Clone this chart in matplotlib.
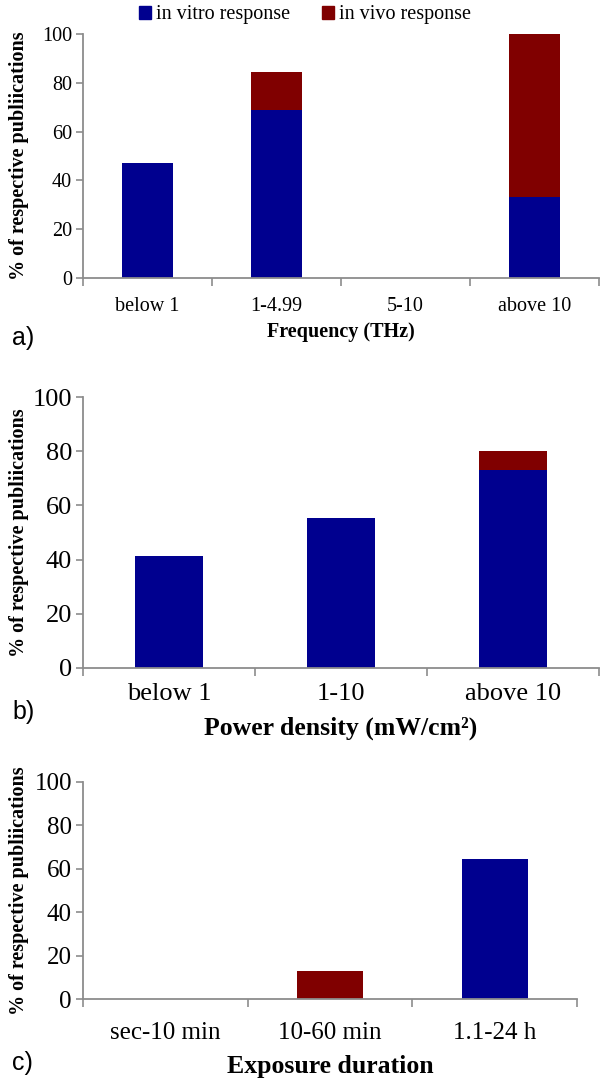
import numpy as np
import matplotlib
matplotlib.use('Agg')
import matplotlib.pyplot as plt
from matplotlib.patches import Patch

plt.rcParams['font.family'] = ['Liberation Serif', 'DejaVu Serif']

# panel a: frequency
freq_cats = ['below 1', '1-4.99', '5-10', 'above 10']
freq_vitro = [47, 69, 0, 33]
freq_vivo = [0, 15.5, 0, 67]

# panel b: power density
power_cats = ['below 1', '1-10', 'above 10']
power_vitro = [41.5, 55.5, 73]
power_vivo = [0, 0, 7]

# panel c: exposure duration
dur_cats = ['sec-10 min', '10-60 min', '1.1-24 h']
dur_vitro = [0, 0, 64.5]
dur_vivo = [0, 13, 0]

BLUE = '#00008f'
RED = '#800000'
GREY = '#8c8c8c'
YLABEL = '% of respective publiications'

fig = plt.figure(figsize=(6, 10.79), dpi=100)
W, H = 600., 1079.


def px_axes(l, r, top, bot):
    return fig.add_axes([l / W, 1 - bot / H, (r - l) / W, (bot - top) / H])


def panel(ax, cats, vitro, vivo, tick_fs, pad, xlab, xlab_fs, xlab_y, letter, letter_y):
    x = np.arange(len(cats))
    ax.bar(x, vitro, width=0.4, color=BLUE, zorder=2)
    ax.bar(x, vivo, width=0.4, bottom=vitro, color=RED, zorder=2)
    ax.set_xlim(-0.5, len(cats) - 0.5)
    ax.set_ylim(0, 100)
    ax.set_yticks(range(0, 101, 20))
    ax.set_xticks(x)
    ax.set_xticklabels(cats, fontsize=tick_fs)
    ax.set_xticks(np.arange(len(cats) + 1) - 0.5, minor=True)
    ax.tick_params(axis='x', which='major', length=0, pad=pad)
    ax.tick_params(axis='x', which='minor', length=6, width=1.2, color=GREY, direction='out')
    ax.tick_params(axis='y', length=5, width=1.2, color=GREY, labelsize=tick_fs, pad=3)
    for s in ['top', 'right']:
        ax.spines[s].set_visible(False)
    for s in ['left', 'bottom']:
        ax.spines[s].set_color(GREY)
        ax.spines[s].set_linewidth(1.3)
    bb = ax.get_position()
    fig.text((bb.x0 + bb.x1) / 2, 1 - xlab_y / H, xlab, fontsize=xlab_fs,
             fontweight='bold', ha='center', va='center')
    fig.text(19 / W, (bb.y0 + bb.y1) / 2, YLABEL, fontsize=14.5, fontweight='bold',
             rotation=90, ha='center', va='center')
    fig.text(12 / W, 1 - letter_y / H, letter, fontsize=18,
             family=['Liberation Sans', 'DejaVu Sans'], va='center')


ax1 = px_axes(83, 599, 34, 278)
panel(ax1, freq_cats, freq_vitro, freq_vivo, 14.5, 13.5, 'Frequency (THz)', 14.5, 332, 'a)', 338)

ax2 = px_axes(83, 599, 397, 668)
panel(ax2, power_cats, power_vitro, power_vivo, 19, 11, 'Power density (mW/cm²)', 18.5, 728, 'b)', 712)

ax3 = px_axes(83, 577, 782, 999)
panel(ax3, dur_cats, dur_vitro, dur_vivo, 18, 16.5, 'Exposure duration', 18.5, 1067, 'c)', 1063)

handles = [Patch(color=BLUE, label='in vitro response'),
           Patch(color=RED, label='in vivo response')]
fig.legend(handles=handles, loc='center', bbox_to_anchor=(305 / W, 1 - 15 / H),
           ncol=2, frameon=False, fontsize=14.5, handlelength=0.6, handleheight=0.6,
           handletextpad=0.25, columnspacing=1.6, borderpad=0)

fig.savefig('out.png', dpi=100)
